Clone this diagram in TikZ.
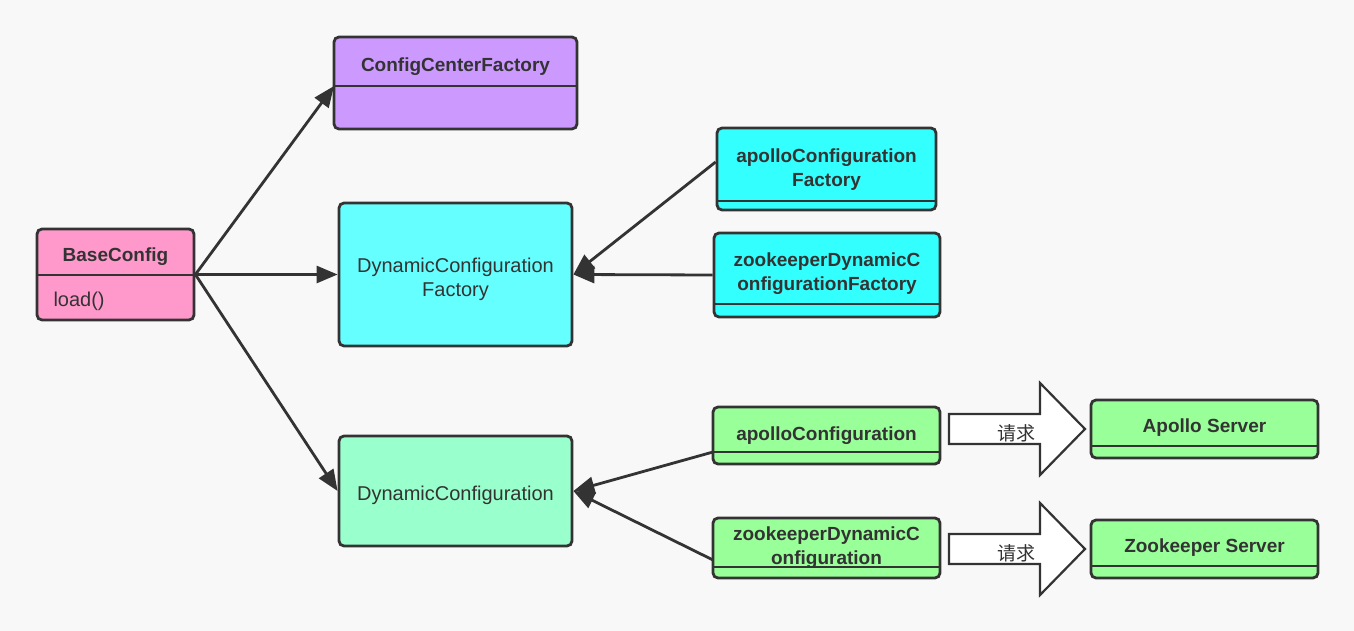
\documentclass[tikz,border=0pt]{standalone}
\usepackage{fontspec}
\setmainfont{Liberation Sans}
\newfontfamily\cjk{Noto Sans CJK SC}
\usepackage{xcolor}
\usepackage{tikz}
\usetikzlibrary{arrows.meta, calc}

\definecolor{linegray}{HTML}{333333}
\definecolor{bggray}{HTML}{F8F8F8}
\definecolor{purplebox}{HTML}{CC99FF}
\definecolor{pinkbox}{HTML}{FF99CC}
\definecolor{cyanbox}{HTML}{66FFFF}
\definecolor{cyanimpl}{HTML}{33FFFF}
\definecolor{mintbox}{HTML}{99FFCC}
\definecolor{greenbox}{HTML}{99FF99}

\begin{document}
\begin{tikzpicture}[
    x=1pt, y=-1pt,
    cls/.style={rectangle, rounded corners=5pt, draw=linegray, line width=2.8pt, inner sep=0pt},
    title/.style={font=\fontsize{19}{24}\selectfont\bfseries, text=linegray, align=center},
    plain/.style={font=\fontsize{20}{24}\selectfont, text=linegray, align=center},
    divider/.style={draw=linegray, line width=2.8pt},
    conn/.style={-{Triangle[length=21pt, width=17pt]}, draw=linegray, line width=2.8pt},
    bigarrow/.style={draw=linegray, line width=2.2pt, fill=white, line join=miter}
]

% canvas
\fill[bggray] (0,0) rectangle (1354,631);
\useasboundingbox (0,0) rectangle (1354,631);

% base class
\node[cls, fill=pinkbox, minimum width=157pt, minimum height=91pt] (base) at (115.5,274.5) {};
\node[title] (basename) at (115.5,257) {BaseConfig};
\node[plain, anchor=west] (baseload) at (50,301) {load()};
\draw[divider] (37,275) -- (194,275);

% factory root
\node[cls, fill=purplebox, minimum width=243pt, minimum height=92pt] (ccf) at (455.5,83) {};
\node[title] (ccfname) at (455.5,67) {ConfigCenterFactory};
\draw[divider] (334,86) coordinate (ccfL) -- (577,86);

% dynamic configuration factory
\node[cls, fill=cyanbox, minimum width=233pt, minimum height=143pt] (dcf) at (455.5,274.5) {};
\node[plain] (dcfname) at (455.5,279) {DynamicConfiguration\\Factory};

\node[cls, fill=cyanimpl, minimum width=219pt, minimum height=82pt] (acf) at (826.5,169) {};
\node[title] (acfname) at (826.5,170) {apolloConfiguration\\Factory};
\draw[divider] (717,201) -- (936,201);

\node[cls, fill=cyanimpl, minimum width=226pt, minimum height=84pt] (zdcf) at (827,275) {};
\node[title] (zdcfname) at (827,274) {zookeeperDynamicC\\onfigurationFactory};
\draw[divider] (714,304) -- (940,304);

% dynamic configuration
\node[cls, fill=mintbox, minimum width=233pt, minimum height=110pt] (dc) at (455.5,491) {};
\node[plain] (dcname) at (455.5,495) {DynamicConfiguration};

\node[cls, fill=greenbox, minimum width=227pt, minimum height=57pt] (ac) at (826.5,435.5) {};
\node[title] (acname) at (826.5,436) {apolloConfiguration};
\draw[divider] (713,452) coordinate (acL) -- (940,452);

\node[cls, fill=greenbox, minimum width=227pt, minimum height=60pt] (zdc) at (826.5,548) {};
\node[title] (zdcname) at (826.5,548) {zookeeperDynamicC\\onfiguration};
\draw[divider] (713,567) coordinate (zdcL) -- (940,567);

% servers
\node[cls, fill=greenbox, minimum width=227pt, minimum height=58pt] (aps) at (1204.5,429) {};
\node[title] (apsname) at (1204.5,428) {Apollo Server};
\draw[divider] (1091,446) -- (1318,446);

\node[cls, fill=greenbox, minimum width=227pt, minimum height=58pt] (zks) at (1204.5,549) {};
\node[title] (zksname) at (1204.5,548) {Zookeeper Server};
\draw[divider] (1091,566) -- (1318,566);

% requests
\draw[bigarrow] (949,414) -- (1040,414) -- (1040,383) -- (1085,429) -- (1040,475) -- (1040,444) -- (949,444) -- cycle;
\node[font=\cjk\fontsize{19}{23}\selectfont, text=linegray] (req1) at (1016.5,433) {请求};
\draw[bigarrow] (949,534) -- (1040,534) -- (1040,503) -- (1085,549) -- (1040,595) -- (1040,564) -- (949,564) -- cycle;
\node[font=\cjk\fontsize{19}{23}\selectfont, text=linegray] (req2) at (1016.5,553) {请求};

% inheritance
\draw[conn] (base.east) -- (ccfL);
\draw[conn] (base.east) -- (dcf.west);
\draw[conn] (base.east) -- (dc.west);
\draw[conn] ($(acf.west)+(0,-7)$) -- (dcf.east);
\draw[conn] (zdcf.west) -- (dcf.east);
\draw[conn] (acL) -- (dc.east);
\draw[conn] ($(zdcL)+(0,-7)$) -- (dc.east);

\end{tikzpicture}
\end{document}
